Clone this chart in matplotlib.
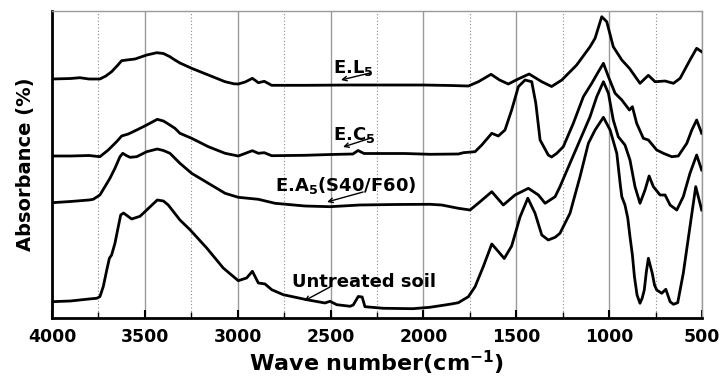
import matplotlib as mpl
import matplotlib.pyplot as plt
import matplotlib.ticker as ticker

mpl.rcParams['font.family'] = ['DejaVu Sans']
mpl.rcParams['font.weight'] = 'bold'
mpl.rcParams['mathtext.default'] = 'bf'

# FTIR spectra, stacked (absorbance offset, arbitrary units)
el5_wn = [4000, 3900, 3850, 3800, 3742, 3710, 3679, 3650, 3625, 3598, 3553, 3490, 3436, 3400,
          3365, 3338, 3311, 3248, 3158, 3068, 3020, 2997, 2960, 2921, 2889, 2857, 2817, 2638,
          2400, 2000, 1850, 1758, 1704, 1636, 1590, 1543, 1490, 1431, 1363, 1310, 1255, 1175,
          1103, 1076, 1040, 1013, 978, 932, 891, 878, 834, 789, 753, 699, 654, 618, 565, 529, 502]
el5_abs = [239, 239.5, 240.3, 239, 239, 242, 246.3, 252, 257.3, 258, 259, 263, 265.3, 264.5,
           261.3, 258, 255, 249.7, 243, 236.3, 234.2, 234, 236, 239.7, 235.3, 236.7, 232.7, 232.7,
           233, 233, 232.5, 232, 236.3, 243.7, 238, 234, 239, 244, 236.3, 231.5, 238, 253,
           271.3, 279.7, 301.3, 296.3, 271.3, 258, 249.7, 246.3, 234.7, 242.7, 236.3, 237, 234.7,
           239.7, 258, 269.7, 266.3]

ec5_wn = [4000, 3900, 3800, 3742, 3697, 3652, 3625, 3589, 3544, 3490, 3433, 3400, 3365, 3338,
          3311, 3248, 3158, 3068, 2997, 2921, 2889, 2857, 2817, 2638, 2500, 2380, 2352, 2320,
          2100, 1965, 1812, 1785, 1722, 1686, 1632, 1597, 1561, 1525, 1489, 1453, 1417, 1395,
          1372, 1328, 1310, 1282, 1247, 1193, 1139, 1094, 1058, 1031, 1004, 968, 932, 891, 875,
          852, 816, 789, 744, 708, 663, 628, 582, 555, 529, 502]
ec5_abs = [162, 162, 162.5, 161.3, 168, 176.3, 182, 184, 188, 193, 198.7, 197, 193, 189.7,
           184.7, 179.7, 171.3, 164.7, 162, 167.3, 164.7, 165.3, 162.3, 162.7, 163.5, 164, 167.5,
           164.5, 164.5, 163.7, 164, 165.3, 166.3, 173, 184.7, 182, 188, 208, 231.3, 238, 236.3,
           214.7, 178, 163, 161, 164.7, 171.3, 194.7, 221.3, 234.7, 246.3, 254.7, 241.3, 224.7,
           218, 208, 211.3, 194.7, 179.7, 178, 168, 164.7, 161.3, 162, 174.7, 188, 198, 184.7]

ea5_wn = [4000, 3900, 3800, 3778, 3742, 3715, 3688, 3661, 3634, 3619, 3600, 3580, 3544, 3490,
          3433, 3400, 3365, 3338, 3311, 3248, 3158, 3068, 2997, 2889, 2799, 2638, 2503, 2342,
          2150, 1965, 1902, 1812, 1749, 1695, 1632, 1570, 1507, 1435, 1381, 1345, 1291, 1265,
          1211, 1157, 1103, 1067, 1031, 1004, 978, 951, 915, 888, 861, 834, 807, 785, 762, 726,
          699, 672, 636, 601, 565, 529, 502]
ea5_abs = [115.3, 116.5, 118, 118.7, 123, 131.3, 139.7, 149.7, 161.3, 164.7, 162.5, 160.7,
           161.3, 166.3, 169, 167.5, 164.7, 159.7, 154.7, 144.7, 134.7, 124.7, 120.7, 118.7,
           114.7, 112, 111.3, 113, 113.5, 113.7, 113, 109.7, 108, 116.3, 126.3, 113, 123, 129.7,
           123, 114.7, 121.3, 131.3, 154.7, 178, 201.3, 221.3, 236.3, 224.7, 198, 181.3, 173,
           158, 131.3, 114.7, 128, 142, 131.3, 123, 123, 113, 108, 121.3, 144.7, 163, 148]

soil_wn = [4000, 3900, 3800, 3759, 3742, 3724, 3705, 3691, 3679, 3661, 3643, 3630, 3615, 3571,
           3526, 3490, 3433, 3400, 3374, 3311, 3257, 3167, 3078, 2997, 2952, 2921, 2889, 2853,
           2817, 2755, 2629, 2530, 2503, 2467, 2395, 2378, 2351, 2330, 2315, 2216, 2056, 1965,
           1884, 1850, 1812, 1758, 1722, 1678, 1632, 1597, 1565, 1525, 1480, 1438, 1399, 1363,
           1328, 1291, 1265, 1211, 1157, 1112, 1076, 1031, 995, 959, 940, 932, 915, 900, 888,
           875, 864, 850, 834, 822, 811, 800, 789, 768, 756, 744, 717, 695, 672, 654, 631, 601,
           565, 534, 502]
soil_abs = [16.3, 17, 19, 19.7, 21.3, 31.3, 48, 59.7, 63, 74.7, 91.3, 103, 105, 99, 101.7, 108,
            118, 117, 113, 98, 88.3, 70, 50, 37.3, 40, 46.7, 35, 34, 28.3, 23.3, 18.3, 15, 16.7,
            13.3, 11.7, 13, 21.5, 21, 11.3, 9.7, 9.3, 10.7, 13, 14, 15.3, 21.3, 31.3, 51.3, 74,
            66.5, 59.5, 72, 101, 119.8, 104.7, 83, 78, 80.7, 84.7, 104.7, 141.3, 174.7, 188,
            200.7, 188, 164.7, 133, 121.3, 113, 100, 81.3, 63, 41.3, 23, 14.7, 20, 28, 46, 59.7,
            44.7, 33, 28, 24.7, 28.7, 16.3, 13.7, 15.3, 44.7, 91.3, 131.3, 108]

labels = ['E.L$_5$', 'E.C$_5$', 'E.A$_5$(S40/F60)', 'Untreated soil']
label_pos = [(2487, 245), (2487, 178), (2799, 127), (2708, 31)]
arrow_start = [(2288, 245), (2282, 180), (2325, 126), (2503, 31)]
arrow_tip = [(2444, 238), (2433, 171), (2519, 116), (2643, 17)]

fig = plt.figure(figsize=(7.26, 3.76), dpi=100)
ax = fig.add_axes([0.0716, 0.1543, 0.8954, 0.8164])

for wn, ab in [(el5_wn, el5_abs), (ec5_wn, ec5_abs), (ea5_wn, ea5_abs), (soil_wn, soil_abs)]:
    ax.plot(wn, ab, color='black', lw=2, solid_joinstyle='round', zorder=3)

for txt, pos, st, tip in zip(labels, label_pos, arrow_start, arrow_tip):
    ax.text(pos[0], pos[1], txt, fontsize=13, fontweight='bold', ha='left', va='baseline', zorder=4)
    ax.annotate('', xy=tip, xytext=st,
                arrowprops=dict(arrowstyle='->', lw=1, color='black', shrinkA=0, shrinkB=0,
                                mutation_scale=8), zorder=4)

ax.set_xlim(4000, 500)
ax.set_ylim(0, 307)
ax.xaxis.set_major_locator(ticker.MultipleLocator(500))
ax.xaxis.set_minor_locator(ticker.MultipleLocator(250))
ax.set_yticks([])
ax.grid(which='major', axis='x', color='#9a9a9a', lw=1, ls='-')
ax.grid(which='minor', axis='x', color='#8a8a8a', lw=0.8, ls=(0, (1, 2)))
ax.set_axisbelow(True)

ax.tick_params(axis='x', which='major', direction='in', length=6, width=1.5, pad=7,
               labelsize=12.4, top=False)
ax.tick_params(axis='x', which='minor', direction='in', length=4, width=1, top=False)
for lab in ax.get_xticklabels():
    lab.set_fontweight('bold')

for side in ['left', 'bottom']:
    ax.spines[side].set_linewidth(2)
    ax.spines[side].set_color('black')
for side in ['top', 'right']:
    ax.spines[side].set_linewidth(1)
    ax.spines[side].set_color('#999999')

ax.set_xlabel('Wave number(cm$^{-1}$)', fontsize=16, fontweight='bold', labelpad=2)
ax.set_ylabel('Absorbance (%)', fontsize=14, fontweight='bold', labelpad=12)

plt.savefig('out.png', dpi=100)
